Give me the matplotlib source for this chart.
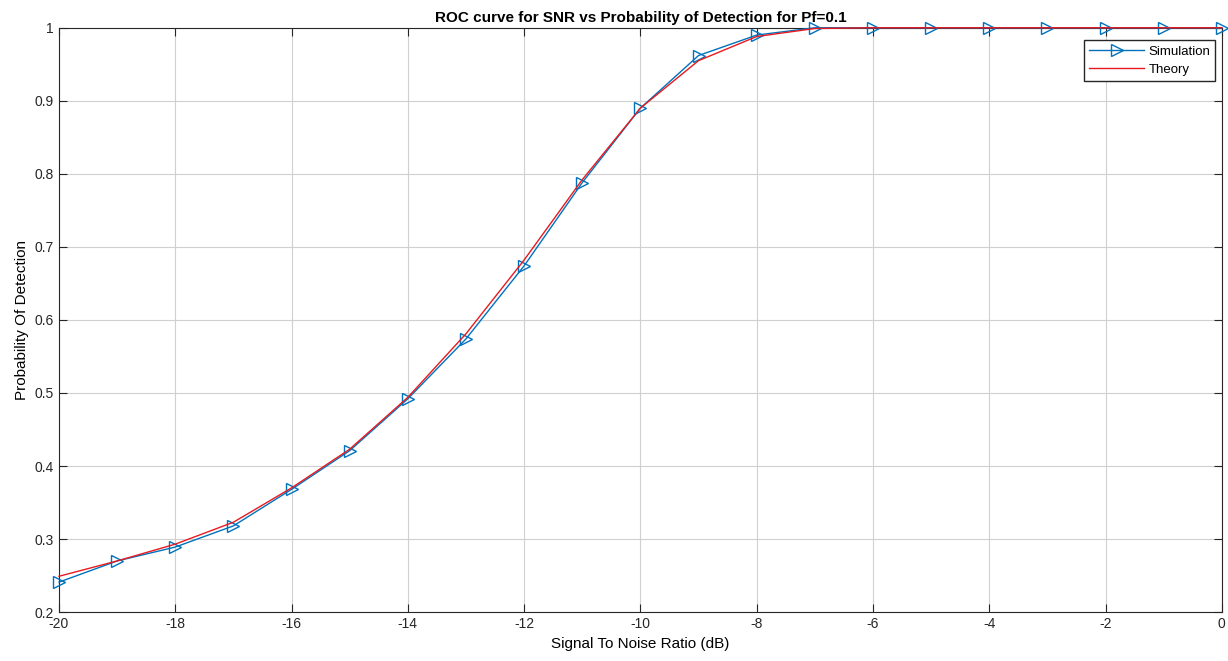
import matplotlib.pyplot as plt

snr_db = [-20, -19, -18, -17, -16, -15, -14, -13, -12, -11, -10,
          -9, -8, -7, -6, -5, -4, -3, -2, -1, 0]
pd_sim = [0.241, 0.270, 0.289, 0.318, 0.368, 0.421, 0.492, 0.574, 0.674, 0.788, 0.890,
          0.962, 0.990, 1.0, 1.0, 1.0, 1.0, 1.0, 1.0, 1.0, 1.0]
pd_theory = [0.249, 0.270, 0.293, 0.323, 0.370, 0.423, 0.494, 0.581, 0.682, 0.792, 0.890,
             0.955, 0.988, 0.999, 1.0, 1.0, 1.0, 1.0, 1.0, 1.0, 1.0]

plt.rcParams['font.family'] = ['Liberation Sans', 'DejaVu Sans']
plt.rcParams['axes.unicode_minus'] = False

fig = plt.figure(figsize=(12.28, 6.61), dpi=100)
ax = fig.add_axes([0.048, 0.074, 0.947, 0.884])

ax.plot(snr_db, pd_sim, color='#0072BD', linewidth=1.0, marker='>',
        markersize=8, markerfacecolor='none', markeredgewidth=1.0,
        label='Simulation', clip_on=False, zorder=3)
ax.plot(snr_db, pd_theory, color='#E8191F', linewidth=1.0, label='Theory',
        clip_on=False, zorder=4)

ax.set_xlim(-20, 0)
ax.set_ylim(0.2, 1)
ax.set_xticks(range(-20, 1, 2))
ax.set_yticks([0.2, 0.3, 0.4, 0.5, 0.6, 0.7, 0.8, 0.9, 1.0])
ax.set_yticklabels(['0.2', '0.3', '0.4', '0.5', '0.6', '0.7', '0.8', '0.9', '1'])
ax.grid(True, color='#d0d0d0', linewidth=0.8)
ax.tick_params(direction='in', labelsize=10, length=6, top=True, right=True,
               labeltop=False, labelright=False, colors='#262626')
for s in ax.spines.values():
    s.set_color('#262626')

ax.set_title('ROC curve for SNR vs Probability of Detection for Pf=0.1',
             fontsize=11, fontweight='bold', pad=4)
ax.set_xlabel('Signal To Noise Ratio (dB)', fontsize=11)
ax.set_ylabel('Probability Of Detection', fontsize=11)
leg = ax.legend(loc='upper right', bbox_to_anchor=(0.9945, 0.979), fontsize=9.5,
                fancybox=False, edgecolor='#262626', framealpha=1, borderpad=0.4,
                handlelength=4.2, handletextpad=0.3, labelspacing=0.45, borderaxespad=0)
leg.set_zorder(5)

fig.savefig('out.png', dpi=100)
